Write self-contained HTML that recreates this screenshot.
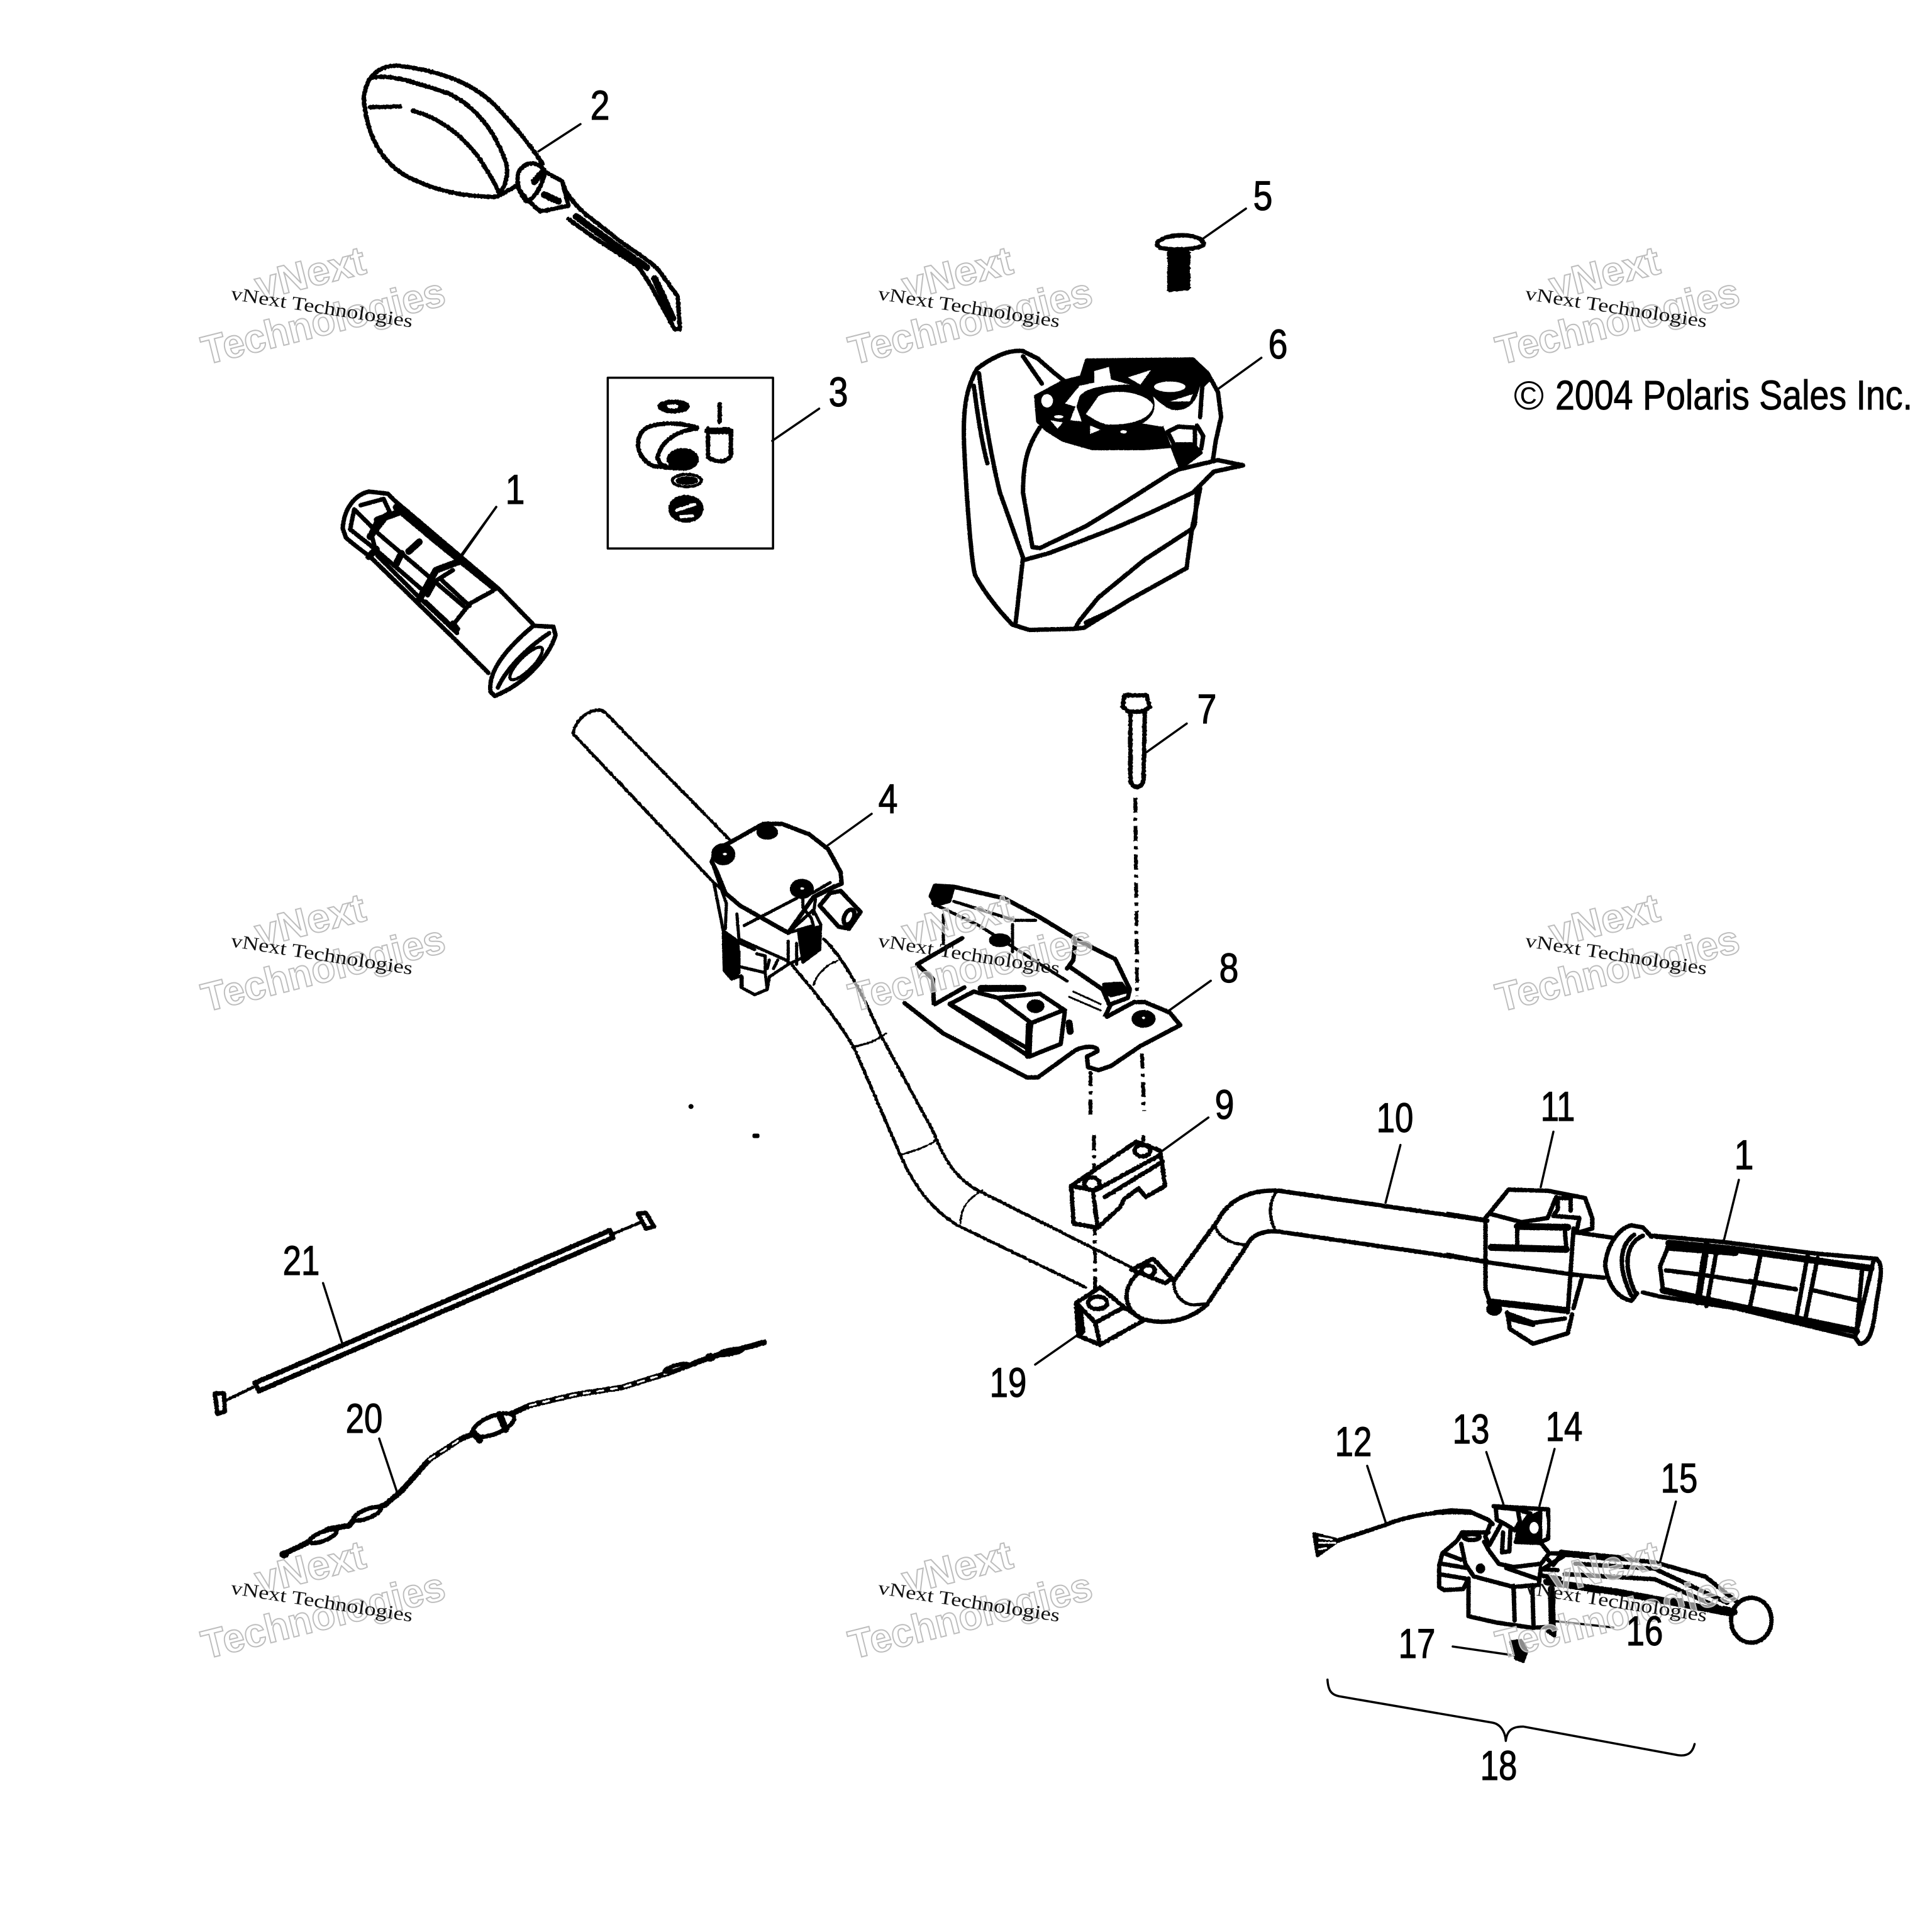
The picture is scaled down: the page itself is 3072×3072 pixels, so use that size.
<!DOCTYPE html>
<html><head><meta charset="utf-8"><title>Handlebar parts diagram</title>
<style>
html,body{margin:0;padding:0;background:#fff}
svg{display:block}
.a path,.a line,.a ellipse,.a rect,.a polyline,.a polygon,.a circle{vector-effect:non-scaling-stroke;fill:none;stroke:#000;stroke-width:5;stroke-linejoin:round;stroke-linecap:round}
.a .w{fill:#fff!important}
.a .k{fill:#000!important}
.a .wn{fill:#fff!important;stroke:none!important}
.a .t{stroke-width:3!important}
.a .m{stroke-width:7!important}
.a .h{stroke-width:11!important}
.a .d{stroke-dasharray:24 8 5 8;stroke-width:6!important;stroke-linecap:butt}
.a .n{stroke:#fff!important}
.a .l{stroke-width:3.5!important}
.n1{font:66px "Liberation Sans",sans-serif;fill:#000;stroke:#000;stroke-width:1.2;text-anchor:middle}
.wb{font:bold 64px "Liberation Sans",sans-serif;fill:rgba(255,255,255,.55);stroke:#bdbdbd;stroke-width:2}
.ws{font:30px "Liberation Serif",serif;fill:#111}
</style></head><body>
<svg xmlns="http://www.w3.org/2000/svg" width="3072" height="3072" viewBox="0 0 3072 3072">
<defs><filter id="r" filterUnits="userSpaceOnUse" x="0" y="0" width="3072" height="3072"><feTurbulence type="fractalNoise" baseFrequency="0.22" numOctaves="1" seed="4"/><feDisplacementMap in="SourceGraphic" scale="5" xChannelSelector="R" yChannelSelector="G"/></filter></defs>
<rect width="3072" height="3072" fill="#fff"/>

<g class="a">
<!-- Zone 1: mirror, kit box -->
<g transform="translate(400,50) scale(.6378,.7015)">
 <g filter="url(#r)">
 <path class="m" d="M280,150C285,100 320,75 370,78C470,90 550,115 610,170C650,210 690,250 725,300"/>
 <path class="m" d="M280,150C285,230 320,290 380,325C450,360 530,375 610,375"/>
 <path class="m" d="M300,105C350,95 420,120 490,140C560,170 610,230 635,300C642,330 630,355 612,375"/>
 <path class="m" d="M295,172L370,170M402,180C470,195 530,240 570,290C590,320 605,340 615,362"/>
 <path class="m" d="M612,375L660,350L690,385M665,320C680,295 712,290 732,318C725,350 705,380 685,385C665,365 660,340 665,320Z"/>
 <path class="m" d="M732,318L775,340L790,395L720,408L695,388"/>
 <path class="h" d="M730,370L765,385M705,340L725,320"/>
 <path class="m" d="M775,345C800,400 850,425 900,462C950,500 1005,520 1030,560L1062,600L1068,675L1055,675C1020,620 990,560 960,530L850,465L790,425"/>
 <path class="h" d="M810,420L900,480L985,535M1005,560L1050,650"/>
 </g>
 <rect x="888" y="785" width="412" height="387" style="stroke-width:3.5"/>
 <g filter="url(#r)">
 <ellipse class="k" cx="1052" cy="850" rx="36" ry="12"/><ellipse class="wn" cx="1050" cy="850" rx="14" ry="5"/>
 <path class="m" d="M1110,897C1060,885 1000,885 975,905C955,930 960,965 1000,985L1055,990M1110,900C1060,905 1020,930 1012,965C1015,985 1040,990 1060,990"/>
 <ellipse class="k" cx="1075" cy="970" rx="36" ry="22"/><ellipse cx="1085" cy="1018" rx="36" ry="14"/><ellipse class="k" cx="1085" cy="1018" rx="24" ry="6"/>
 <ellipse class="k" cx="1083" cy="1082" rx="40" ry="28"/><path class="n" d="M1060,1085L1105,1072M1070,1100L1100,1098"/>
 <path class="m" d="M1167,845L1167,885"/><path class="h" d="M1138,905L1188,905"/>
 <path class="m" d="M1138,900L1138,965C1160,980 1190,975 1195,960L1195,905"/>
 </g>
 <line class="l" x1="820" y1="210" x2="715" y2="272"/>
 <line class="l" x1="610" y1="1078" x2="520" y2="1190"/>
 <line class="l" x1="1415" y1="855" x2="1298" y2="928"/>
</g>

<!-- left grip -->
<g transform="translate(520,760) scale(.3333)" filter="url(#r)">
 <path class="m" d="M75,240C80,150 130,80 200,65L290,75L325,110L820,530L985,700"/>
 <path class="m" d="M75,240L90,285C130,320 160,340 210,380L600,760L770,930"/>
 <path class="m" d="M160,130L270,100L300,165L240,200L210,260L230,340M130,150L110,245"/>
 <path class="h" d="M330,140L520,300L800,525M240,200L340,165M205,280L270,195M235,340L200,375"/>
 <path class="m" d="M130,150L250,270L650,610M110,245L230,340L450,530M240,370L440,570L620,740M470,590L620,730"/>
 <path class="h" d="M390,350L440,305M330,410L355,360M440,580L520,440L640,395"/>
 <path class="m" d="M480,560L520,490L600,440M550,490L680,610M610,690L680,600L790,540M625,720L600,690"/>
 <path class="m w" d="M985,705L1080,710L1090,750C1060,850 950,980 800,1040L780,1020C770,950 810,850 985,705Z"/>
 <path class="m" d="M1060,740C970,800 860,900 815,1000"/>
 <ellipse cx="950" cy="885" rx="105" ry="32" transform="rotate(-45 950 885)"/>
</g>
<line class="l" x1="789" y1="806" x2="733" y2="886"/>

<!-- Zone 2: bolt 5 -->
<g transform="translate(1400,250) scale(1.0663,.5102)">
 <g filter="url(#r)">
 <path class="m" d="M412,272C415,240 475,228 482,270C482,290 412,295 412,272Z"/>
 <path class="k" d="M430,295L460,295L460,410L430,415Z"/>
 </g>
 <line class="l" x1="545" y1="160" x2="478" y2="258"/>
 <line class="l" x1="568" y1="625" x2="505" y2="720"/>
</g>

<!-- headlight pod 6 -->
<g transform="translate(1520,550) scale(.3333)" filter="url(#r)">
 <path class="k" d="M380,240L510,170L600,150L625,70L1130,65L1210,160L1180,190L1140,290L1030,350L980,380L1020,480L900,490L650,490L510,450L430,400L390,360Z"/>
 <path class="wn" d="M680,240C750,200 900,220 940,280C940,340 850,380 720,375C680,365 640,340 620,325Z"/>
 <path class="wn" d="M660,120L730,100L740,160L830,185C700,185 620,200 590,240L575,290L600,360L545,355L570,290L520,275L590,190L660,175Z"/>
 <path class="wn" d="M820,150L930,115L880,185Z"/>
 <ellipse class="wn" cx="1020" cy="195" rx="75" ry="25"/>
 <path class="wn" d="M940,240C960,260 990,290 1030,305C1080,310 1120,300 1150,240L1165,190L1185,190L1165,340L1060,355L980,385L890,370C940,340 960,300 940,240Z"/>
 <path class="wn" d="M1020,265L1130,230L1115,265Z"/>
 <ellipse class="wn" cx="435" cy="262" rx="28" ry="32"/>
 <ellipse class="wn" cx="490" cy="338" rx="22" ry="8"/>
 <path class="wn" d="M450,355L510,365L485,395Z"/>
 <path class="wn" d="M640,380L690,400L640,420Z"/>
 <ellipse class="wn" cx="800" cy="410" rx="16" ry="8"/>
 <path class="wn" d="M1210,280L1240,290L1240,400L1190,500L1085,570L1220,548Z"/>
 <path class="m" d="M320,25C240,15 150,70 100,110C50,200 30,300 40,500C50,700 70,1000 90,1090C130,1170 210,1270 270,1330L350,1355L560,1350L610,1345L830,1210L1100,1060L1125,880L1165,680"/>
 <path class="m" d="M320,25L390,60L470,130L520,170L600,150L625,70L1130,65L1200,130L1250,220L1265,340L1240,450L1225,550"/>
 <path class="m" d="M110,130C130,300 170,540 210,700L320,1010L285,1320"/>
 <path class="m" d="M85,190C100,300 120,450 150,560"/>
 <path class="m" d="M320,50L410,180"/>
 <path class="m" d="M400,390C340,480 320,560 320,700L365,960L400,965L620,860L800,750L1020,610L1060,590L1250,545L1370,570L1230,600L1180,650L1130,700L940,790L780,860L600,930L440,990L330,1020"/>
 <path class="m" d="M1130,870L900,1020L680,1200L590,1310L570,1345"/>
 <path class="m" d="M1150,690L1140,850L1125,880M620,1320L750,1260"/>
 <path class="w m" d="M1010,410L1060,385L1140,390L1140,470L1040,470Z"/>
 <path class="k" d="M1030,480L1140,475L1170,510L1070,585Z"/>
 <path class="m" d="M1175,190L1165,340M1150,380L1180,430L1170,490"/>
</g>

<!-- Zone 3: left bar, control, clamps -->
<g transform="translate(850,1100) scale(.7653,.7015)">
 <g filter="url(#r)">
 <path d="M405,335L145,45C120,32 85,60 80,95L370,430"/>
 <path d="M600,560C640,600 680,680 720,780L830,1000C860,1090 900,1120 930,1135L1250,1310"/>
 <path d="M535,620C590,690 640,760 665,810L760,1050C800,1150 850,1190 880,1210L1145,1350"/>
 <path class="t" d="M580,665C585,640 610,615 630,610M660,805C690,800 710,790 730,775M760,1050C790,1040 820,1030 835,1015M885,1205C885,1170 900,1150 930,1130"/>
 <!-- bolt 7 -->
 <path class="m" d="M1222,35L1225,8L1272,8L1278,35L1262,45L1235,45Z"/>
 <path class="m" d="M1238,45L1238,200C1240,220 1262,222 1265,200L1268,45"/>
 <path class="d" d="M1248,240L1252,690M1262,820L1266,950M1155,860L1155,960M1162,1005L1165,1360M1265,1005L1265,1020"/>
 <!-- clamp 9 -->
 <path class="w m" d="M1115,1120L1250,1020L1300,1040L1310,1120L1270,1145L1255,1125L1225,1150L1215,1170L1170,1215L1120,1205Z"/>
 <path class="m" d="M1165,1130L1300,1050M1185,1145L1305,1065M1160,1130L1170,1215M1115,1120L1160,1130"/>
 <ellipse class="m" cx="1158" cy="1115" rx="16" ry="14"/><ellipse class="m" cx="1263" cy="1040" rx="16" ry="13"/>
 <!-- boss + clamp 19 -->
 <path class="m" d="M1240,1310L1285,1285L1325,1330L1310,1340M1240,1310L1310,1340"/>
 <ellipse class="m" cx="1275" cy="1312" rx="14" ry="12"/>
 <path class="w m" d="M1125,1385L1175,1350L1225,1395L1265,1425L1175,1480L1130,1460Z"/>
 <path class="m" d="M1165,1430L1175,1480M1125,1385L1165,1430L1225,1395"/>
 <ellipse class="m" cx="1170" cy="1385" rx="20" ry="14"/>
 <path class="h" d="M1132,1400L1137,1450"/>
 </g>
 <circle class="k" cx="325" cy="940" r="2"/><rect class="k" x="456" y="1005" width="8" height="3"/>
 <line class="l" x1="1355" y1="72" x2="1270" y2="138"/>
 <line class="l" x1="1405" y1="655" x2="1315" y2="725"/>
 <line class="l" x1="1400" y1="965" x2="1305" y2="1040"/>
 <line class="l" x1="1128" y1="1458" x2="1040" y2="1525"/>
</g>

<!-- control 4 -->
<g transform="translate(1120,1280) scale(.3333)" filter="url(#r)">
 <path class="w" d="M45,370L90,600L95,790L130,830L175,815L175,870L240,905L300,880L310,820L400,760L550,690L555,570L520,500L400,610L170,480Z"/>
 <path class="k" d="M90,600L160,650L165,800L130,830L95,790Z"/>
 <path class="k" d="M450,610L550,580L550,690L470,750Z"/>
 <path class="w m" d="M35,270L60,210L120,180L280,90L370,90L500,140L590,210L650,320L655,375L600,400L520,440L400,610L170,480L100,420L60,320Z"/>
 <path d="M45,300L105,470M105,470L100,590M155,520L165,640L400,745M150,650L240,690M400,650L400,750M440,660L440,760"/>
 <path d="M165,700L165,770L290,800L290,720L250,710M180,820L180,870M290,800L300,880M310,740L300,780M350,740L330,780"/>
 <path d="M190,575L440,445" />
 <path class="w m" d="M650,410L745,510L690,590L640,580L550,480L600,420Z"/>
 <ellipse class="m" cx="690" cy="535" rx="22" ry="38" transform="rotate(25 690 535)"/>
 <path d="M600,370L515,420M620,385L530,430M470,430L470,490L510,540M530,450L520,520M400,610L520,575L510,540"/>
 <ellipse class="k" cx="90" cy="235" rx="50" ry="45"/><ellipse class="wn" cx="98" cy="234" rx="10" ry="6"/>
 <ellipse class="k" cx="300" cy="130" rx="44" ry="28"/>
 <ellipse class="k" cx="465" cy="400" rx="50" ry="40"/><ellipse class="wn" cx="467" cy="398" rx="9" ry="6"/>
</g>
<line class="l" x1="1386" y1="1294" x2="1315" y2="1345"/>

<!-- bracket 8 -->
<g transform="translate(1420,1400) scale(.3333)" filter="url(#r)">
 <path class="m" d="M180,75L200,25L290,30L530,85L700,175L880,285L1060,375L1130,520L1120,560L1040,590L1010,650"/>
 <path class="m" d="M840,410L1000,520L1030,590M870,280L860,380L830,420"/>
 <path class="k" d="M180,75L200,25L290,30L270,100L200,120Z"/>
 <path class="k" d="M1005,495L1090,490L1120,530L1040,550L1005,530Z"/>
 <path d="M190,110L410,215L830,480M290,100L580,190L680,190M570,210L570,340M240,165L240,300"/>
 <ellipse class="k" cx="510" cy="285" rx="45" ry="25"/>
 <path class="m" d="M115,400L330,275M115,400L190,470L195,600"/>
 <path class="t" d="M840,555L990,620M860,530L990,590"/>
 <path class="w m" d="M55,585L240,730L640,940L690,940L870,810C920,785 980,790 975,815L925,840L930,890L980,905L1040,885L1180,790L1370,690L1320,630L1200,580L1150,580L1020,650"/>
 <path class="m" d="M200,590L340,510"/>
 <path class="w m" d="M270,590L385,530L500,560L700,540L820,620L800,780L650,840Z"/>
 <path class="m" d="M270,590L640,800M500,560L660,680L810,620M660,680L640,840"/>
 <path class="h" d="M420,515L620,515M650,690L645,830M840,680L845,720"/>
 <ellipse class="k" cx="680" cy="600" rx="35" ry="25"/>
 <ellipse class="k" cx="1195" cy="660" rx="50" ry="35"/>
 <ellipse class="wn" cx="1195" cy="655" rx="8" ry="5"/>
</g>

<!-- Zone 4: right bar -->
<g transform="translate(1700,1700) scale(.875,.3827)">
 <g filter="url(#r)">
 <path class="m" d="M190,880L270,630C290,540 330,500 380,505L760,630"/>
 <path class="m" d="M130,840C95,900 95,1000 135,1040C180,1065 220,1040 250,980L325,725C335,680 360,670 380,675L760,800"/>
 <path d="M190,880C190,930 200,970 225,980L250,975M265,650C270,690 290,730 325,730M375,515C360,570 365,620 375,675"/>
 </g>
 <line class="l" x1="602" y1="315" x2="575" y2="555"/>
 <line class="l" x1="880" y1="260" x2="857" y2="490"/>
 <line class="l" x1="1217" y1="460" x2="1190" y2="710"/>
</g>

<!-- switch 11 + right grip -->
<g transform="translate(2300,1880) scale(.4592,.3333)" filter="url(#r)">
 <path class="m" d="M135,170L150,145L215,35L350,40L480,75L505,170L505,220L455,240"/>
 <path class="m" d="M135,170L135,510L150,570"/>
 <path class="m" d="M150,150L260,190L350,170L380,70M385,130L385,75L430,75L430,135M380,140L370,160L460,170L450,240"/>
 <path class="h" d="M245,210L420,215M155,310L415,320"/>
 <path class="m" d="M245,215L245,310M410,230L415,320"/>
 <path class="m" d="M0,150L135,180M0,345L135,380L440,440L545,455M455,240L580,265"/>
 <path class="m" d="M440,220L420,620M470,450L440,600"/>
 <path class="h" d="M150,570L410,610"/>
 <ellipse class="k" cx="165" cy="605" rx="22" ry="24"/>
 <path class="m" d="M210,620L220,700L300,770L420,720L435,630M220,630L300,670L410,650M215,650L300,680"/>
 <path class="m" d="M640,205C590,220 550,320 550,400C560,490 590,550 640,565L660,530M640,205L680,215L710,260"/>
 <path class="m" d="M650,250C600,300 590,400 640,540M680,255C620,290 610,400 655,530"/>
 <path class="m" d="M710,255L760,265M680,525L740,545"/>
 <path class="m" d="M720,255L960,285L1280,340L1490,365M740,545L1000,600L1420,740"/>
 <path class="w m" d="M1480,365C1510,370 1510,420 1490,560C1480,680 1470,770 1430,770L1415,740Z"/>
 <path class="h" d="M770,290L1000,320L1470,410M770,310L1000,335"/>
 <path class="m" d="M760,420L880,440L1210,510M1270,515L1430,565M1050,470L1210,510"/>
 <path class="h" d="M750,515L1000,590L1420,710"/>
 <path class="m" d="M770,300L740,400L750,520M1090,330L1050,600M1250,350L1210,660M1285,360L1240,670M1440,400L1420,720"/>
 <path class="h" d="M900,300L870,570"/>
 <path class="m" d="M935,330L900,590"/>
</g>

<!-- Lever assembly -->
<g transform="translate(2280,2380) scale(.3333)" filter="url(#r)">
 <path class="m" d="M0,75L80,65L170,70L260,110L280,130"/>
 <path class="m" d="M285,45L545,60L545,200L510,215L390,215"/>
 <path class="k" d="M390,215L400,160L470,90L510,70L510,210Z"/>
 <ellipse class="wn" cx="478" cy="148" rx="22" ry="28"/>
 <ellipse class="wn" cx="528" cy="135" rx="12" ry="55" fill="#fff"/>
 <path class="m" d="M295,50L400,60L410,120L385,160L340,130L300,110Z"/>
 <path class="m" d="M400,60L460,80L400,160"/>
 <path class="m" d="M110,210L135,170L260,170M110,210L40,270L25,330L25,430L50,445L140,440L165,390L165,570L300,600L470,625L560,620L570,490"/>
 <ellipse class="m" cx="180" cy="192" rx="38" ry="14"/>
 <path class="m" d="M130,225L150,320L190,380L380,430L500,420M240,215L265,260L310,320L380,335L510,320L550,270L510,220L390,215"/>
 <path class="m" d="M40,320L160,340M30,370L150,390M50,270L130,300"/>
 <path class="m" d="M380,425L385,590M470,440L475,610"/>
 <path class="h" d="M560,440L565,620"/>
 <path class="m" d="M270,130L245,190L265,230L320,130M330,170L325,265L360,260L365,160M560,270L610,270L570,325L545,300M345,340L490,390M510,340L500,420"/>
 <ellipse class="k" cx="222" cy="342" rx="15" ry="17"/>
 <path class="k" d="M540,640L580,625L575,665Z"/>
 <path class="m" d="M510,345L590,350M510,375L600,390"/>
</g>

<!-- Zone 5: lever blade, ball, cable, bracket -->
<g transform="translate(2000,2250) scale(.574,.4145)">
 <g filter="url(#r)">
 <path class="m" d="M225,480C290,450 340,430 375,410C430,385 500,365 590,375"/>
 <path class="k" d="M155,455L225,480L165,540Z"/>
 <path class="n t" d="M170,470L205,478M170,490L215,490M170,515L190,510"/>
 <path class="h" d="M840,530L1000,550M800,640L1000,680L1310,760"/>
 <path class="m" d="M790,590L860,530L1100,565L1240,620L1330,720"/>
 <path class="m" d="M880,570L1100,590L1300,720M850,610L1100,630L1280,740"/>
 <ellipse class="w m" cx="1367" cy="787" rx="56" ry="86"/>
 <path class="h" d="M1150,715L1170,715M1290,745L1320,755"/>
 <path class="k" d="M700,870L730,865L745,905L735,945L715,935Z"/>
 </g>
 <line class="l" x1="633" y1="142" x2="680" y2="340"/>
 <line class="l" x1="822" y1="130" x2="780" y2="350"/>
 <line class="l" x1="303" y1="195" x2="355" y2="415"/>
 <line class="l" x1="1158" y1="332" x2="1115" y2="560"/>
 <line class="l" x1="985" y1="815" x2="820" y2="790"/>
 <line class="l" x1="540" y1="888" x2="700" y2="920"/>
 <path class="l" d="M193,1015C195,1060 205,1075 230,1080L650,1180C670,1185 685,1210 687,1250C690,1210 705,1195 735,1195L1165,1305C1195,1310 1205,1290 1210,1262"/>
</g>

<!-- Zone 6: cables -->
<g transform="translate(300,1900) scale(.6378,.4783)">
 <g filter="url(#r)">
 <path style="stroke-width:8" d="M165,625L1050,118M175,652L1058,142M165,625L175,652M1050,118L1058,142"/>
 <path d="M1058,130L1125,92M160,640L90,685"/>
 <path class="m" d="M1120,62L1140,60L1160,105L1140,112Z"/>
 <path class="m" d="M65,660L88,660L90,720L72,728Z"/>
 <path style="stroke-width:9" d="M235,1195L290,1160L350,1110L400,1100L420,1065L490,1030L530,985L600,880L680,810L720,790L800,730L850,700L960,665L1080,640L1200,590L1300,540L1435,490"/>
 <path class="n t" stroke-dasharray="10 12" d="M600,880L680,810M850,700L960,665L1080,640L1200,590"/>
 <ellipse class="w m" cx="760" cy="765" rx="58" ry="28" transform="rotate(-32 760 765)"/>
 <path class="h" d="M775,730L790,780M710,790L725,815"/>
 <ellipse class="w m" cx="445" cy="1060" rx="38" ry="14" transform="rotate(-30 445 1060)"/>
 <ellipse class="w m" cx="335" cy="1135" rx="38" ry="14" transform="rotate(-30 335 1135)"/>
 <ellipse class="w m" cx="1215" cy="575" rx="30" ry="8" transform="rotate(-22 1215 575)"/>
 <ellipse class="w m" cx="1350" cy="522" rx="30" ry="7" transform="rotate(-15 1350 522)"/>
 <circle class="k" cx="238" cy="1195" r="8"/><circle class="k" cx="1300" cy="540" r="9"/>
 </g>
 <line class="l" x1="335" y1="293" x2="382" y2="490"/>
 <line class="l" x1="475" y1="810" x2="520" y2="990"/>
</g>
</g>

<!-- big watermarks -->
<g class="wb">
<text transform="translate(412,477) rotate(-14)" textLength="178" lengthAdjust="spacingAndGlyphs">vNext</text>
<text transform="translate(327,580) rotate(-14)" textLength="396" lengthAdjust="spacingAndGlyphs">Technologies</text>
<text transform="translate(1441,477) rotate(-14)" textLength="178" lengthAdjust="spacingAndGlyphs">vNext</text>
<text transform="translate(1356,580) rotate(-14)" textLength="396" lengthAdjust="spacingAndGlyphs">Technologies</text>
<text transform="translate(2470,477) rotate(-14)" textLength="178" lengthAdjust="spacingAndGlyphs">vNext</text>
<text transform="translate(2385,580) rotate(-14)" textLength="396" lengthAdjust="spacingAndGlyphs">Technologies</text>
<text transform="translate(412,1506) rotate(-14)" textLength="178" lengthAdjust="spacingAndGlyphs">vNext</text>
<text transform="translate(327,1609) rotate(-14)" textLength="396" lengthAdjust="spacingAndGlyphs">Technologies</text>
<text transform="translate(1441,1506) rotate(-14)" textLength="178" lengthAdjust="spacingAndGlyphs">vNext</text>
<text transform="translate(1356,1609) rotate(-14)" textLength="396" lengthAdjust="spacingAndGlyphs">Technologies</text>
<text transform="translate(2470,1506) rotate(-14)" textLength="178" lengthAdjust="spacingAndGlyphs">vNext</text>
<text transform="translate(2385,1609) rotate(-14)" textLength="396" lengthAdjust="spacingAndGlyphs">Technologies</text>
<text transform="translate(412,2535) rotate(-14)" textLength="178" lengthAdjust="spacingAndGlyphs">vNext</text>
<text transform="translate(327,2638) rotate(-14)" textLength="396" lengthAdjust="spacingAndGlyphs">Technologies</text>
<text transform="translate(1441,2535) rotate(-14)" textLength="178" lengthAdjust="spacingAndGlyphs">vNext</text>
<text transform="translate(1356,2638) rotate(-14)" textLength="396" lengthAdjust="spacingAndGlyphs">Technologies</text>
<text transform="translate(2470,2535) rotate(-14)" textLength="178" lengthAdjust="spacingAndGlyphs">vNext</text>
<text transform="translate(2385,2638) rotate(-14)" textLength="396" lengthAdjust="spacingAndGlyphs">Technologies</text>
</g>

<!-- small watermark text -->
<g class="ws">
<text transform="translate(366,476) rotate(8.8)" textLength="292" lengthAdjust="spacingAndGlyphs">vNext Technologies</text>
<text transform="translate(1395,476) rotate(8.8)" textLength="292" lengthAdjust="spacingAndGlyphs">vNext Technologies</text>
<text transform="translate(2424,476) rotate(8.8)" textLength="292" lengthAdjust="spacingAndGlyphs">vNext Technologies</text>
<text transform="translate(366,1505) rotate(8.8)" textLength="292" lengthAdjust="spacingAndGlyphs">vNext Technologies</text>
<text transform="translate(1395,1505) rotate(8.8)" textLength="292" lengthAdjust="spacingAndGlyphs">vNext Technologies</text>
<text transform="translate(2424,1505) rotate(8.8)" textLength="292" lengthAdjust="spacingAndGlyphs">vNext Technologies</text>
<text transform="translate(366,2534) rotate(8.8)" textLength="292" lengthAdjust="spacingAndGlyphs">vNext Technologies</text>
<text transform="translate(1395,2534) rotate(8.8)" textLength="292" lengthAdjust="spacingAndGlyphs">vNext Technologies</text>
<text transform="translate(2424,2534) rotate(8.8)" textLength="292" lengthAdjust="spacingAndGlyphs">vNext Technologies</text>
</g>

<!-- part numbers -->
<g class="n1">
<text transform="translate(954,190) scale(.84,1)">2</text>
<text transform="translate(819,801) scale(.84,1)">1</text>
<text transform="translate(1333,646) scale(.84,1)">3</text>
<text transform="translate(2008,334) scale(.84,1)">5</text>
<text transform="translate(2032,570) scale(.84,1)">6</text>
<text transform="translate(1919,1150) scale(.84,1)">7</text>
<text transform="translate(1412,1293) scale(.84,1)">4</text>
<text transform="translate(1954,1562) scale(.84,1)">8</text>
<text transform="translate(1947,1779) scale(.84,1)">9</text>
<text transform="translate(2218,1800) scale(.8,1)">10</text>
<text transform="translate(2477,1782) scale(.8,1)">11</text>
<text transform="translate(2773,1859) scale(.84,1)">1</text>
<text transform="translate(1603,2221) scale(.8,1)">19</text>
<text transform="translate(2152,2315) scale(.8,1)">12</text>
<text transform="translate(2339,2295) scale(.8,1)">13</text>
<text transform="translate(2487,2291) scale(.8,1)">14</text>
<text transform="translate(2670,2373) scale(.8,1)">15</text>
<text transform="translate(2615,2616) scale(.8,1)">16</text>
<text transform="translate(2253,2636) scale(.8,1)">17</text>
<text transform="translate(2383,2830) scale(.8,1)">18</text>
<text transform="translate(479,2027) scale(.8,1)">21</text>
<text transform="translate(579,2278) scale(.8,1)">20</text>
</g>

<!-- copyright -->
<text x="2407" y="651" font-family="Liberation Sans, sans-serif" font-size="64" textLength="48" lengthAdjust="spacingAndGlyphs">©</text>
<text x="2473" y="651" font-family="Liberation Sans, sans-serif" font-size="66" textLength="568" lengthAdjust="spacingAndGlyphs" stroke="#000" stroke-width="1">2004 Polaris Sales Inc.</text>
</svg>
</body></html>
